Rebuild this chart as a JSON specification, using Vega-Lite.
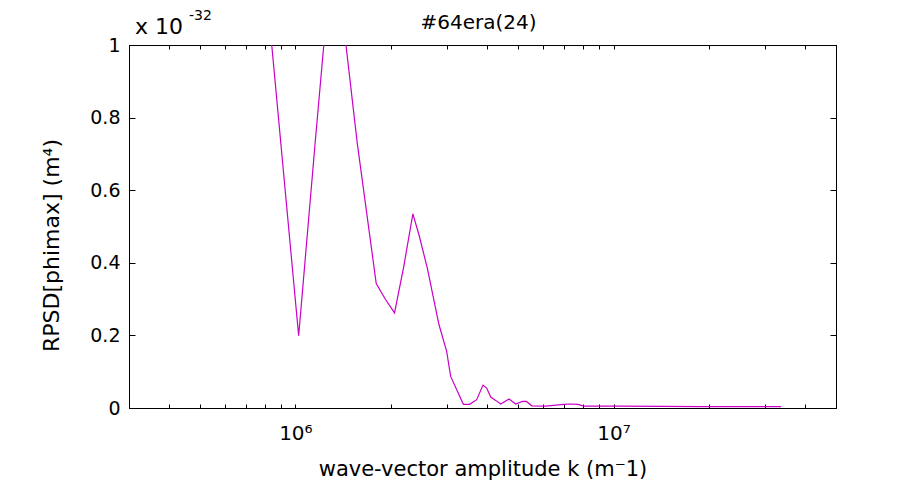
{
  "$schema": "https://vega.github.io/schema/vega-lite/v6.json",
  "width": 707,
  "height": 363,
  "autosize": "none",
  "padding": {"left": 129, "top": 45, "right": 79, "bottom": 82},
  "background": "white",
  "data": {"values": [
    {"k": 793000, "v": 1.25},
    {"k": 1024000, "v": 0.199},
    {"k": 1156000, "v": 0.739},
    {"k": 1317000, "v": 1.3},
    {"k": 1564000, "v": 0.731},
    {"k": 1795000, "v": 0.343},
    {"k": 1920000, "v": 0.299},
    {"k": 2049000, "v": 0.262},
    {"k": 2192000, "v": 0.391},
    {"k": 2340000, "v": 0.535},
    {"k": 2444000, "v": 0.478},
    {"k": 2597000, "v": 0.386},
    {"k": 2826000, "v": 0.23},
    {"k": 2988000, "v": 0.156},
    {"k": 3076000, "v": 0.087},
    {"k": 3372000, "v": 0.01},
    {"k": 3529000, "v": 0.01},
    {"k": 3713000, "v": 0.023},
    {"k": 3887000, "v": 0.063},
    {"k": 3992000, "v": 0.055},
    {"k": 4110000, "v": 0.03},
    {"k": 4262000, "v": 0.021},
    {"k": 4419000, "v": 0.011},
    {"k": 4692000, "v": 0.025},
    {"k": 4925000, "v": 0.011},
    {"k": 5170000, "v": 0.018},
    {"k": 5322000, "v": 0.018},
    {"k": 5530000, "v": 0.006},
    {"k": 6122000, "v": 0.005},
    {"k": 6977000, "v": 0.01},
    {"k": 7339000, "v": 0.011},
    {"k": 7721000, "v": 0.01},
    {"k": 8060000, "v": 0.005},
    {"k": 10550000, "v": 0.005},
    {"k": 18830000, "v": 0.004},
    {"k": 33630000, "v": 0.004}
  ]},
  "layer": [
    {
      "mark": {"type": "line", "color": "#c800c8", "strokeWidth": 1.2, "clip": true},
      "encoding": {
        "x": {"field": "k", "type": "quantitative",
          "scale": {"type": "log", "domain": [300000, 50000000], "nice": false},
          "axis": {"orient": "bottom", "title": "wave-vector amplitude k (m⁻1)",
            "values": [300000, 400000, 500000, 600000, 700000, 800000, 900000, 1000000, 2000000, 3000000, 4000000, 5000000, 6000000, 7000000, 8000000, 9000000, 10000000, 20000000, 30000000, 40000000, 50000000],
            "labelExpr": "datum.value == 1000000 ? '10⁶' : (datum.value == 10000000 ? '10⁷' : '')",
            "tickSize": -4, "labelPadding": 19, "labelFontSize": 20, "titlePadding": 15, "titleFontSize": 21}},
        "y": {"field": "v", "type": "quantitative",
          "scale": {"domain": [0, 1], "nice": false, "zero": false},
          "axis": {"orient": "left", "title": "RPSD[phimax] (m⁴)", "values": [0, 0.2, 0.4, 0.6, 0.8, 1], "format": "~g",
            "tickSize": -6, "labelPadding": 15, "titlePadding": 26, "titleFontSize": 22, "titleY": 200}}
      }
    },
    {
      "mark": {"type": "line", "opacity": 0, "clip": true},
      "encoding": {
        "x": {"field": "k", "type": "quantitative",
          "scale": {"type": "log", "domain": [300000, 50000000], "nice": false},
          "axis": {"orient": "top", "title": "#64era(24)", "labels": false,
            "values": [300000, 400000, 500000, 600000, 700000, 800000, 900000, 1000000, 2000000, 3000000, 4000000, 5000000, 6000000, 7000000, 8000000, 9000000, 10000000, 20000000, 30000000, 40000000, 50000000],
            "tickSize": -4, "titlePadding": 12, "titleFontSize": 20, "titleX": 349}},
        "y": {"field": "v", "type": "quantitative",
          "scale": {"domain": [0, 1], "nice": false, "zero": false},
          "axis": {"orient": "right", "title": null, "labels": false, "values": [0, 0.2, 0.4, 0.6, 0.8, 1], "tickSize": -6}}
      }
    },
    {
      "data": {"values": [{"t": "x 10"}]},
      "mark": {"type": "text", "align": "left", "baseline": "alphabetic", "dx": 6, "dy": -11, "font": "DejaVu Sans", "fontSize": 22, "color": "black"},
      "encoding": {
        "x": {"datum": 300000, "type": "quantitative", "axis": null},
        "y": {"datum": 1, "type": "quantitative", "axis": null},
        "text": {"field": "t"}
      }
    },
    {
      "data": {"values": [{"t": "-32"}]},
      "mark": {"type": "text", "align": "left", "baseline": "alphabetic", "dx": 60, "dy": -25, "font": "DejaVu Sans", "fontSize": 14, "color": "black"},
      "encoding": {
        "x": {"datum": 300000, "type": "quantitative", "axis": null},
        "y": {"datum": 1, "type": "quantitative", "axis": null},
        "text": {"field": "t"}
      }
    }
  ],
  "resolve": {"axis": {"x": "independent", "y": "independent"}},
  "config": {
    "view": {"stroke": "black", "strokeWidth": 1},
    "axis": {
      "domainColor": "black", "domainWidth": 1,
      "tickColor": "black", "tickWidth": 1,
      "grid": false,
      "labelFont": "DejaVu Sans", "labelFontSize": 19, "labelColor": "black",
      "titleFont": "DejaVu Sans", "titleFontSize": 19, "titleFontWeight": "normal", "titleColor": "black"
    }
  }
}
